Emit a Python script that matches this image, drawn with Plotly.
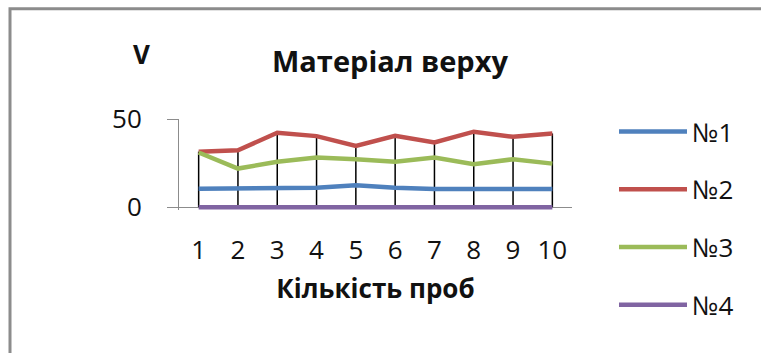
import plotly.graph_objects as go

# Sample numbers (category axis)
samples = [1, 2, 3, 4, 5, 6, 7, 8, 9, 10]

# Measured values per series
s1 = [10.5, 10.5, 11.0, 11.0, 12.4, 11.0, 10.3, 10.3, 10.3, 10.3]
s2 = [31.5, 32.3, 42.2, 40.3, 34.8, 40.5, 36.7, 42.8, 39.9, 41.8]
s3 = [31.0, 21.9, 25.7, 28.2, 27.2, 25.7, 28.2, 24.3, 27.2, 24.7]
s4 = [0, 0, 0, 0, 0, 0, 0, 0, 0, 0]

series_names = ["№1", "№2", "№3", "№4"]
series_colors = ["#4F81BD", "#C0504D", "#9BBB59", "#8064A2"]
y_ticks = [0, 50]

FONT = "Open Sans"

# plot-area geometry in pixels
W, H = 761, 353
L, R, T, B = 179, 572, 119, 207
Y_LOW = -1.6  # small pad below zero so the zero-level line is not clipped
B_PAD = B + (0 - Y_LOW) * (B - T) / 50.0


def px_x(p):
    return (p - L) / (R - L)


def px_y(p):
    return (B_PAD - p) / (B_PAD - T)


fig = go.Figure()

# drop lines from the highest point of each category down to the axis
all_series = [s1, s2, s3, s4]
drop_x, drop_y = [], []
for i, x in enumerate(samples):
    top = max(s[i] for s in all_series)
    low = min(s[i] for s in all_series)
    drop_x += [x, x, None]
    drop_y += [low, top, None]
fig.add_trace(go.Scatter(
    x=drop_x, y=drop_y, mode="lines",
    line=dict(color="black", width=1.5),
    showlegend=False, hoverinfo="skip", legendgroup="№1",
))

for k, (name, vals, col) in enumerate(zip(series_names, all_series, series_colors)):
    fig.add_trace(go.Scatter(
        x=samples, y=vals, mode="lines", name=name,
        line=dict(color=col, width=4.5),
        legendgroup=name,
    ))

fig.update_layout(
    width=W, height=H,
    margin=dict(l=L, r=W - R, t=T, b=H - B_PAD, pad=0),
    paper_bgcolor="white", plot_bgcolor="white",
    font=dict(family=FONT, size=22, color="#111111"),
    showlegend=True,
    legend=dict(
        x=px_x(614), y=px_y(108), xanchor="left", yanchor="top",
        font=dict(family=FONT, size=26, color="#111111"),
        tracegroupgap=21, itemwidth=68, maxheight=400,
        bgcolor="rgba(0,0,0,0)",
    ),
    xaxis=dict(
        range=[0.5, 10.5], tickmode="array", tickvals=samples,
        ticktext=[str(v) for v in samples],
        showgrid=False, zeroline=False, showline=False,
        ticks="", tickfont=dict(size=26, color="#111111"),
        ticklabelstandoff=22,
        title=dict(text="<b>Кількість проб</b>", font=dict(size=26), standoff=13),
    ),
    yaxis=dict(
        range=[Y_LOW, 50], tickmode="array", tickvals=y_ticks,
        showgrid=True, gridcolor="#8c8c8c", gridwidth=1,
        zeroline=False, showline=True, linecolor="#8c8c8c", linewidth=1,
        ticks="outside", ticklen=11, tickcolor="#8c8c8c",
        tickfont=dict(size=26, color="#111111"),
        ticklabelstandoff=20,
    ),
    annotations=[
        dict(text="<b>Матеріал верху</b>", x=px_x(390), y=px_y(61),
             xref="paper", yref="paper", showarrow=False,
             xanchor="center", yanchor="middle", font=dict(size=29)),
        dict(text="<b>V</b>", x=px_x(141), y=px_y(54),
             xref="paper", yref="paper", showarrow=False,
             xanchor="center", yanchor="middle", font=dict(size=26)),
    ],
    shapes=[
        # chart frame (top and left edges visible)
        dict(type="rect", xref="paper", yref="paper",
             x0=px_x(10), y0=px_y(420), x1=px_x(800), y1=px_y(9),
             line=dict(color="#8c8c8c", width=3), layer="below"),
    ],
)

fig.write_html("out.html")
